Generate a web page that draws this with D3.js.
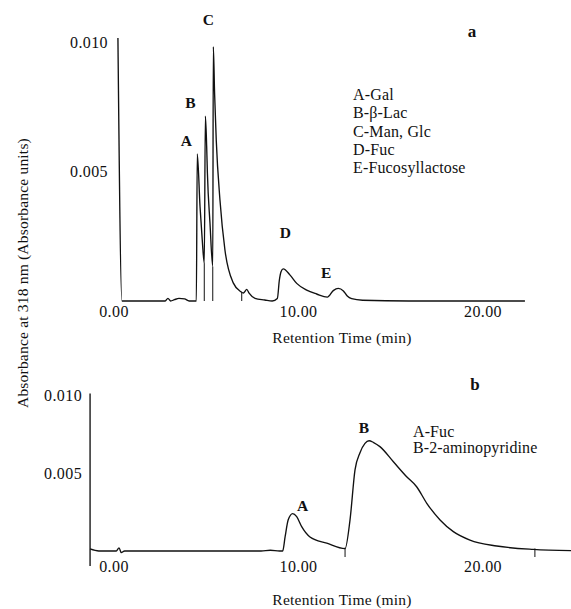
<!DOCTYPE html>
<html>
<head>
<meta charset="utf-8">
<script src="https://cdn.jsdelivr.net/npm/d3@7"></script>
<style>
  html, body { margin: 0; padding: 0; background: #fff; }
  svg { display: block; }
  text { font-family: "Liberation Serif", "Times New Roman", serif; fill: #111; }
</style>
</head>
<body>
<svg id="chart" width="571" height="609"></svg>
<script>
// ---- data -------------------------------------------------------------
// Retention time (min) / absorbance (AU) pairs, panel a: sugar standards
const traceA = [
  [0.24, 0.01015], [0.46, 0.0], [1.5, 0.0], [2.8, 0.0], [2.95, 0.0001],
  [3.1, 0.0], [3.3, 0.00005], [3.55, 0.0001], [3.85, 0.00008], [4.1, 0.0],
  [4.49, 0.0], [4.54, 0.00568], [4.69, 0.00364], [4.81, 0.00236], [4.92, 0.00146],
  [4.98, 0.00714], [5.05, 0.00596], [5.09, 0.00493], [5.23, 0.003], [5.38, 0.00133],
  [5.41, 0.00982], [5.48, 0.0080], [5.57, 0.0062], [5.77, 0.0039], [6.04, 0.00197],
  [6.49, 0.0007], [6.9, 0.00036], [7.04, 0.00031], [7.1, 0.00035], [7.22, 0.00045],
  [7.35, 0.0003], [7.67, 0.0001], [8.2, 0.00004], [8.6, 0.0],
  [8.88, 0.0001], [8.99, 0.00081], [9.08, 0.00113], [9.2, 0.00124], [9.57, 0.001],
  [9.93, 0.00068], [10.47, 0.00042], [11.01, 0.00027], [11.59, 0.00015],
  [11.91, 0.0004], [12.18, 0.00049], [12.46, 0.00039], [12.67, 0.00019],
  [12.91, 0.00009], [13.5, 0.00003], [16.0, 0.0], [22.3, 0.0]
];
// Panel b: Fuc and 2-aminopyridine
const traceB = [
  [-1.27, 0.00013], [-0.8, 0.0], [0.15, 0.0], [0.3, 0.0002], [0.42, -0.0001],
  [0.6, 0.0], [4.0, 0.0], [8.0, 0.0], [8.5, 0.00005], [9.0, 0.0], [9.17, 0.0],
  [9.3, 0.0009], [9.47, 0.002], [9.71, 0.0024], [9.93, 0.0022], [10.2, 0.00156],
  [10.65, 0.0009], [11.56, 0.0005], [12.55, 0.00015], [12.82, 0.002],
  [13.09, 0.0052], [13.36, 0.0063], [13.63, 0.0069], [13.85, 0.00707],
  [14.1, 0.00695], [14.44, 0.00669], [15.17, 0.00572], [15.89, 0.00476],
  [16.43, 0.00412], [16.98, 0.00306], [17.7, 0.00199], [18.42, 0.00124],
  [19.32, 0.0007], [20.77, 0.00032], [22.75, 0.0001], [24.8, 0.00002]
];

// integration markers (min)
const dropsA = [4.92, 5.38, 6.95];
const marksB = [12.55, 22.84];

const timeTicks = [0, 10, 20];
const absTicks = [0.005, 0.010];

const peakNamesA = ["A", "B", "C", "D", "E"];
const peakTimesA = [4.54, 4.98, 5.41, 9.2, 12.18];
const peakAbsA = [0.00568, 0.00714, 0.00982, 0.00124, 0.00049];
const peakNamesB = ["A", "B"];
const peakTimesB = [9.71, 13.85];
const peakAbsB = [0.0024, 0.00707];

const legendA = ["A-Gal", "B-\u03B2-Lac", "C-Man, Glc", "D-Fuc", "E-Fucosyllactose"];
const legendB = ["A-Fuc", "B-2-aminopyridine"];

const xTitle = "Retention Time (min)";
const yTitle = "Absorbance at 318 nm (Absorbance units)";

// ---- scales -----------------------------------------------------------
const svg = d3.select("#chart");
const x = d3.scaleLinear().domain([0, 20]).range([113.5, 482.5]);
const yA = d3.scaleLinear().domain([0, 0.01]).range([301, 42]);
const yB = d3.scaleLinear().domain([0, 0.01]).range([551, 395]);

const ink = "#111";
const serif = "'Liberation Serif', 'Times New Roman', serif";

function valueAt(trace, t) {
  for (let i = 1; i < trace.length; i++) {
    if (trace[i][0] >= t) {
      const [t0, v0] = trace[i - 1], [t1, v1] = trace[i];
      return v0 + (v1 - v0) * (t - t0) / (t1 - t0);
    }
  }
  return trace[trace.length - 1][1];
}

function drawTrace(trace, y) {
  const line = d3.line()
    .x(d => x(d[0]))
    .y(d => y(d[1]))
    .curve(d3.curveMonotoneX);
  svg.append("path")
    .datum(trace)
    .attr("d", line)
    .attr("fill", "none")
    .attr("stroke", ink)
    .attr("stroke-width", 1.35)
    .attr("stroke-linejoin", "round");
}

function styleAxis(g, size) {
  g.select(".domain").remove();
  g.selectAll("line").remove();
  g.selectAll("text")
    .attr("font-family", serif)
    .attr("font-size", size)
    .attr("letter-spacing", 0.4)
    .attr("fill", ink);
}

// ---- panel a ----------------------------------------------------------
drawTrace(traceA, yA);

svg.append("g").selectAll("line")
  .data(dropsA).join("line")
  .attr("x1", d => x(d)).attr("x2", d => x(d))
  .attr("y1", d => yA(valueAt(traceA, d))).attr("y2", yA(0))
  .attr("stroke", ink).attr("stroke-width", 1);

svg.append("g")
  .attr("transform", `translate(0,${yA(0) + 2})`)
  .call(d3.axisBottom(x).tickValues(timeTicks).tickFormat(d3.format(".2f")).tickSize(0).tickPadding(3))
  .call(g => styleAxis(g, 16));

svg.append("g")
  .attr("transform", "translate(108,0)")
  .call(d3.axisLeft(yA).tickValues(absTicks).tickFormat(d3.format(".3f")).tickSize(0).tickPadding(0))
  .call(g => styleAxis(g, 16));

// peak letters, offset (px) from each apex
const labelOffsetA = [[-11, -8], [-15, -8], [-5, -22], [2, -31], [-12, -10]];
svg.append("g").selectAll("text")
  .data(peakNamesA).join("text")
  .attr("x", (d, i) => x(peakTimesA[i]) + labelOffsetA[i][0])
  .attr("y", (d, i) => yA(peakAbsA[i]) + labelOffsetA[i][1])
  .attr("text-anchor", "middle")
  .attr("font-weight", "bold")
  .attr("font-size", 15.5)
  .text(d => d);

svg.append("text")
  .attr("x", 472).attr("y", 37)
  .attr("text-anchor", "middle")
  .attr("font-weight", "bold")
  .attr("font-size", 17)
  .text("a");

svg.append("g").selectAll("text")
  .data(legendA).join("text")
  .attr("x", 353)
  .attr("y", (d, i) => 100 + i * 18.3)
  .attr("font-size", 16)
  .attr("letter-spacing", 0.15)
  .text(d => d);

svg.append("text")
  .attr("x", 342).attr("y", 343)
  .attr("text-anchor", "middle")
  .attr("font-size", 15.5)
  .attr("letter-spacing", 0.25)
  .text(xTitle);

// ---- panel b ----------------------------------------------------------
svg.append("line")
  .attr("x1", x(-1.27)).attr("x2", x(-1.27))
  .attr("y1", yB(0.0101)).attr("y2", yB(0) + 15)
  .attr("stroke", ink).attr("stroke-width", 1.35);

drawTrace(traceB, yB);

svg.append("g").selectAll("line")
  .data(marksB).join("line")
  .attr("x1", d => x(d)).attr("x2", d => x(d))
  .attr("y1", d => yB(valueAt(traceB, d)) - 1).attr("y2", yB(0) + 6)
  .attr("stroke", ink).attr("stroke-width", 1);

svg.append("g")
  .attr("transform", `translate(0,${yB(0) + 7})`)
  .call(d3.axisBottom(x).tickValues(timeTicks).tickFormat(d3.format(".2f")).tickSize(0).tickPadding(3))
  .call(g => styleAxis(g, 16));

svg.append("g")
  .attr("transform", `translate(${x(-1.27) - 8},0)`)
  .call(d3.axisLeft(yB).tickValues(absTicks).tickFormat(d3.format(".3f")).tickSize(0).tickPadding(0))
  .call(g => styleAxis(g, 16));

const labelOffsetB = [[10, -3], [-5, -8]];
svg.append("g").selectAll("text")
  .data(peakNamesB).join("text")
  .attr("x", (d, i) => x(peakTimesB[i]) + labelOffsetB[i][0])
  .attr("y", (d, i) => yB(peakAbsB[i]) + labelOffsetB[i][1])
  .attr("text-anchor", "middle")
  .attr("font-weight", "bold")
  .attr("font-size", 15.5)
  .text(d => d);

svg.append("text")
  .attr("x", 475).attr("y", 390)
  .attr("text-anchor", "middle")
  .attr("font-weight", "bold")
  .attr("font-size", 17)
  .text("b");

svg.append("g").selectAll("text")
  .data(legendB).join("text")
  .attr("x", 413)
  .attr("y", (d, i) => 437 + i * 16)
  .attr("font-size", 16)
  .attr("letter-spacing", 0.1)
  .text(d => d);

svg.append("text")
  .attr("x", 342).attr("y", 605)
  .attr("text-anchor", "middle")
  .attr("font-size", 15.5)
  .attr("letter-spacing", 0.25)
  .text(xTitle);

// ---- shared y title ---------------------------------------------------
svg.append("text")
  .attr("transform", "translate(28,273) rotate(-90)")
  .attr("text-anchor", "middle")
  .attr("font-size", 15.5)
  .attr("letter-spacing", 0.2)
  .text(yTitle);
</script>
</body>
</html>
